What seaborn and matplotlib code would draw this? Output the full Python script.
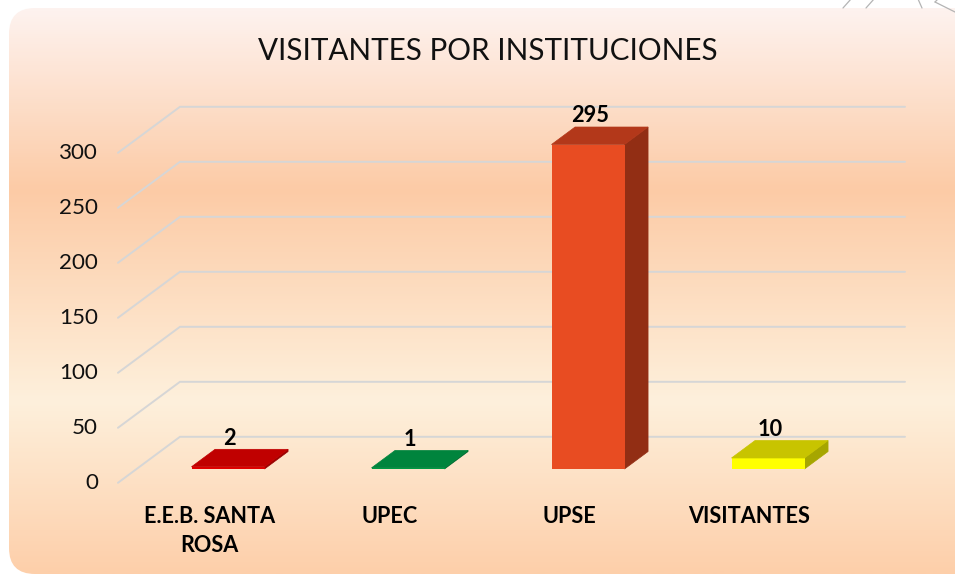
import matplotlib
matplotlib.use("Agg")
import matplotlib.pyplot as plt
import seaborn as sns
import numpy as np
import pandas as pd
from matplotlib.patches import Polygon, FancyBboxPatch
from matplotlib.colors import LinearSegmentedColormap
from matplotlib import font_manager

# ---------------- data ----------------
categories = ["E.E.B. SANTA\nROSA", "UPEC", "UPSE", "VISITANTES"]
values = [2, 1, 295, 10]
tick_values = [0, 50, 100, 150, 200, 250, 300]
tick_labels = ["0", "50", "100", "150", "200", "250", "300"]
title = "VISITANTES POR INSTITUCIONES"

front_colors = ["#e00000", "#00a045", "#e84c22", "#ffff00"]
top_colors = ["#c00000", "#00843d", "#b3381a", "#c8c400"]
side_colors = ["#9a0000", "#006a30", "#922e14", "#a6a600"]

# ---------------- fonts ----------------
avail = {f.name for f in font_manager.fontManager.ttflist}
base = "Lato" if "Lato" in avail else "DejaVu Sans"

sns.set_theme(style="white")
plt.rcParams["font.family"] = [base, "DejaVu Sans"]

W, H = 955, 574
fig = plt.figure(figsize=(W / 100, H / 100), dpi=100)
fig.patch.set_facecolor("white")
renderer = fig.canvas.get_renderer()


def fit_width(txt, target_px):
    """Scale font size so that the text spans target_px pixels."""
    for _ in range(3):
        bb = txt.get_window_extent(renderer=renderer)
        if bb.width > 0:
            txt.set_fontsize(txt.get_fontsize() * target_px / bb.width)


# ---------------- background (rounded gradient panel) ----------------
bg = fig.add_axes([0, 0, 1, 1])
bg.set_xlim(0, W)
bg.set_ylim(H, 0)
bg.axis("off")
cmap = LinearSegmentedColormap.from_list(
    "panel",
    [(0.0, "#fef4f2"), (0.33, "#fccba6"), (0.70, "#fef0dc"), (1.0, "#fdcfaa")],
)
grad = np.linspace(0, 1, 300).reshape(-1, 1)
im = bg.imshow(grad, cmap=cmap, aspect="auto", extent=(0, W, H, 0), zorder=0)
panel = FancyBboxPatch((9, 8), 980, 566, boxstyle="round,pad=0,rounding_size=26",
                       transform=bg.transData, facecolor="none", edgecolor="none")
bg.add_patch(panel)
im.set_clip_path(panel)
# decorative strokes at the top right (outside the panel)
for (x0, y0, x1, y1) in [(843, 8, 851, -1), (866, 8, 874, -1), (922, 8, 918, -1),
                         (935, 2, 955, 12), (935, 2, 938, -1)]:
    bg.plot([x0, x1], [y0, y1], color="#b4b4b4", lw=0.9, zorder=1)

# ---------------- main axes ----------------
PX_PER_CAT = 180.0
PX_PER_VAL = 1.1
X0_PX, Y0_PX = 228.0, 469.0
ax = fig.add_axes([0, 0, 1, 1])
ax.patch.set_alpha(0)

# depth geometry (full floor depth and bar depth)
DX = 62 / PX_PER_CAT        # category units per full depth
DY = 46 / PX_PER_VAL        # value units per full depth
BAR_D0 = 0.30               # depth fraction of bar front
BAR_DEPTH = 0.38
WALL_X0, WALL_X1 = -0.508, 3.52   # wall extent in category units


def proj(x, v, d):
    return x + (d - BAR_D0) * DX, v + (d - BAR_D0) * DY


df = pd.DataFrame({"cat": categories, "val": values})
sns.barplot(data=df, x="cat", y="val", hue="cat", palette=front_colors,
            width=73 / PX_PER_CAT, legend=False, ax=ax, zorder=3,
            saturation=1, edgecolor="none")
ax.set_xlim(-X0_PX / PX_PER_CAT, (W - X0_PX) / PX_PER_CAT)
ax.set_ylim((Y0_PX - H) / PX_PER_VAL, Y0_PX / PX_PER_VAL)
ax.axis("off")

grid_c = "#d6d6d6"
for v in tick_values:
    xa, ya = proj(WALL_X0, v, 0.0)
    xb, yb = proj(WALL_X0, v, 1.0)
    xc, yc = proj(WALL_X1, v, 1.0)
    ax.plot([xa, xb, xc], [ya, yb, yc], color=grid_c, lw=1.4, zorder=1,
            solid_joinstyle="miter")

# tick labels on the front edge
ticks_txt = []
for v, lab in zip(tick_values, tick_labels):
    xt, yt = proj(WALL_X0, v, 0.0)
    t = ax.text(xt - 20 / PX_PER_CAT, yt, lab, ha="right", va="center",
                fontsize=15, fontweight="normal", color="#111111", zorder=5)
    ticks_txt.append(t)
fit_width(ticks_txt[-1], 39)
for t in ticks_txt:
    t.set_fontsize(ticks_txt[-1].get_fontsize())

bdx, bdy = BAR_DEPTH * DX, BAR_DEPTH * DY
val_txt = []
for i, p in enumerate(ax.patches[:len(values)]):
    x, w, h = p.get_x(), p.get_width(), p.get_height()
    top = Polygon([(x, h), (x + w, h), (x + w + bdx, h + bdy), (x + bdx, h + bdy)],
                  closed=True, facecolor=top_colors[i], edgecolor=top_colors[i],
                  lw=0.5, zorder=3)
    side = Polygon([(x + w, 0), (x + w + bdx, bdy), (x + w + bdx, h + bdy), (x + w, h)],
                   closed=True, facecolor=side_colors[i], edgecolor=side_colors[i],
                   lw=0.5, zorder=2.9)
    ax.add_patch(side)
    ax.add_patch(top)
    t = ax.text(x + w / 2 + 0.01, h + bdy + 0.5, str(values[i]), ha="center", va="bottom",
                fontsize=16, fontweight="bold", color="black", zorder=6)
    val_txt.append(t)
fit_width(val_txt[2], 38)
for t in val_txt:
    t.set_fontsize(val_txt[2].get_fontsize())

# category labels at the front of the floor
cat_txt = []
for i, c in enumerate(categories):
    xl, _ = proj(i, 0, 0.0)
    t = ax.text(xl, (Y0_PX - 506) / PX_PER_VAL, c, ha="center", va="top",
                multialignment="center", fontsize=14, fontweight="bold",
                color="black", linespacing=1.45, zorder=6)
    cat_txt.append(t)
fit_width(cat_txt[3], 122)
for t in cat_txt:
    t.set_fontsize(cat_txt[3].get_fontsize())

tt = ax.text((488 - X0_PX) / PX_PER_CAT, (Y0_PX - 51) / PX_PER_VAL, title,
             ha="center", va="center", fontsize=24, fontweight="normal",
             color="#111111", zorder=6)
fit_width(tt, 460)

fig.savefig("out.png", dpi=100)
